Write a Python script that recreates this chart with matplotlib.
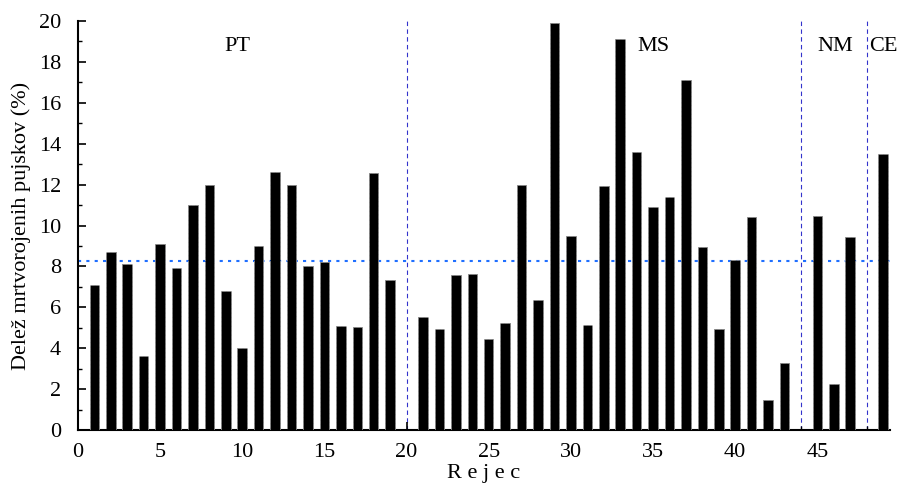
import matplotlib
matplotlib.use("Agg")
import matplotlib.pyplot as plt
from matplotlib.ticker import MultipleLocator

plt.rcParams['font.family'] = ['Liberation Serif', 'DejaVu Serif']

rejec = [1, 2, 3, 4, 5, 6, 7, 8, 9, 10, 11, 12, 13, 14, 15, 16, 17, 18, 19,
         21, 22, 23, 24, 25, 26, 27, 28, 29, 30, 31, 32, 33, 34, 35, 36, 37, 38, 39, 40, 41, 42, 43,
         45, 46, 47, 49]
delez = [7.1, 8.7, 8.1, 3.6, 9.1, 7.9, 11.0, 12.0, 6.8, 4.0, 9.0, 12.6, 12.0, 8.0, 8.2, 5.1, 5.05, 12.55, 7.35,
         5.55, 4.95, 7.6, 7.65, 4.45, 5.25, 12.0, 6.35, 19.9, 9.5, 5.15, 11.95, 19.1, 13.6, 10.9, 11.4, 17.1, 8.95, 4.95, 8.3, 10.4, 1.45, 3.3,
         10.45, 2.25, 9.45,
         13.5]
povprecje = 8.25
meje = [20, 44, 48]
skupine = ["PT", "MS", "NM", "CE"]
skupine_x = [9.7, 35.0, 46.1, 49.0]

fig = plt.figure(figsize=(9.06, 4.86), dpi=100)
ax = fig.add_axes([0.086, 0.115, 0.896, 0.842])

ax.bar(rejec, delez, width=0.58, color='black', edgecolor='#888888', linewidth=0.6, linestyle='--', zorder=3)
ax.axhline(povprecje, color='#1f6fff', linestyle=(0, (1.5, 2.5)), linewidth=1.5, zorder=2)
for m in meje:
    ax.axvline(m, color='#3333cc', linestyle=(0, (4, 3)), linewidth=0.8, zorder=1)
for s, sx in zip(skupine, skupine_x):
    ax.text(sx, 18.75, s, ha='center', va='center', fontsize=16)

ax.set_xlim(0, 49.4)
ax.set_ylim(0, 20)
ax.xaxis.set_major_locator(MultipleLocator(5))
ax.xaxis.set_minor_locator(MultipleLocator(1))
ax.yaxis.set_major_locator(MultipleLocator(2))
ax.yaxis.set_minor_locator(MultipleLocator(1))
ax.tick_params(which='both', direction='in', labelsize=16)
ax.tick_params(which='major', length=6, width=1.2)
ax.tick_params(which='minor', length=3, width=1.0)
ax.tick_params(axis='x', pad=9)
ax.tick_params(axis='y', pad=12)
for sp in ['top', 'right']:
    ax.spines[sp].set_visible(False)
for sp in ['left', 'bottom']:
    ax.spines[sp].set_linewidth(1.5)

ax.set_xlabel("R e j e c", fontsize=16, labelpad=2)
ax.set_ylabel("Delež mrtvorojenih pujskov (%)", fontsize=16, labelpad=6)

fig.savefig("out.png", dpi=100)
